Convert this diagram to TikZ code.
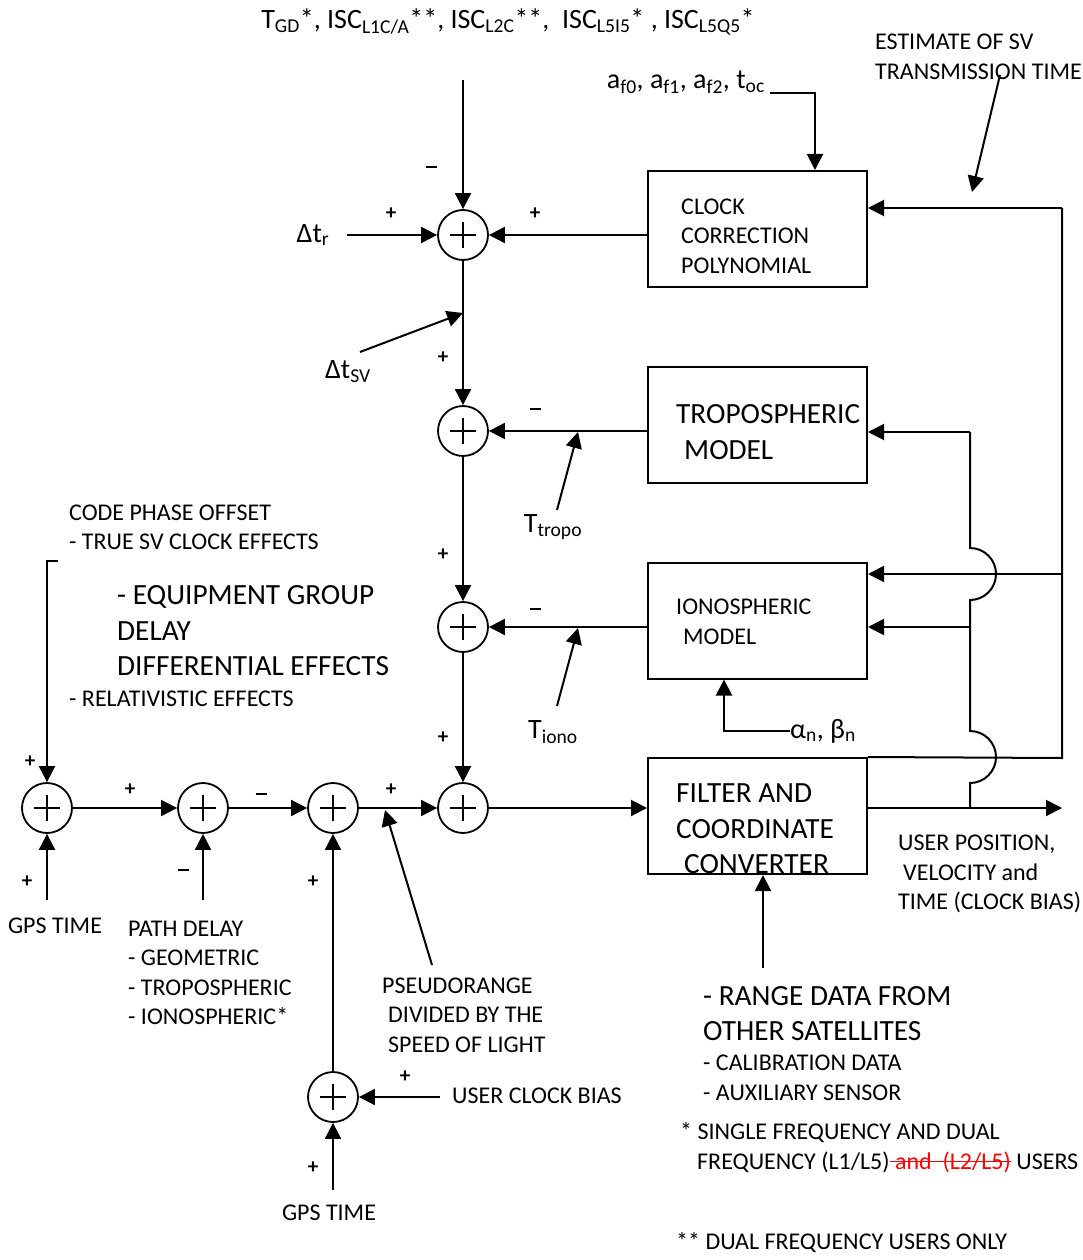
\documentclass[tikz,border=0pt]{standalone}
\usepackage{fontspec}
\setmainfont{Carlito}
\usetikzlibrary{arrows.meta}
\newcommand{\txs}{\fontsize{24}{29.5}\selectfont}
\newcommand{\txl}{\fontsize{29.3}{35.5}\selectfont}
\newcommand{\txt}{\fontsize{28}{30}\selectfont}
\newcommand{\lo}[1]{\textsubscript{#1}}
\newcommand{\strk}[1]{\begingroup\setbox0\hbox{#1}\rlap{\rule[0.3em]{\wd0}{1.3pt}}\box0\endgroup}
\newcommand{\mns}{\rule[0.3em]{11pt}{2pt}}

\begin{document}
\begin{tikzpicture}[x=1pt, y=-1pt,
	sumj/.style={circle, draw, line width=1.8pt, minimum size=50pt, inner sep=0pt,
		path picture={\draw[line width=1.4pt]
			([xshift=-13pt]path picture bounding box.center) -- ([xshift=13pt]path picture bounding box.center)
			([yshift=-13pt]path picture bounding box.center) -- ([yshift=13pt]path picture bounding box.center);}},
	blk/.style={draw, line width=2pt, minimum width=219pt, minimum height=116pt, inner sep=0pt},
	wire/.style={line width=2pt},
	arr/.style={wire, -{Triangle[length=16pt,width=16pt]}},
	sgn/.style={font=\bfseries\fontsize{21}{21}\selectfont, inner sep=0pt},
	lbs/.style={font=\txs, inner sep=0pt, align=left},
	lbl/.style={font=\txl, inner sep=0pt, align=left},
	lbt/.style={font=\txt, inner sep=0pt}]
	\useasboundingbox (0,0) rectangle (1083,1260);
	% summing junctions
	\node[sumj] (s1) at (463,235) {};
	\node[sumj] (s2) at (463,431) {};
	\node[sumj] (s3) at (463,627) {};
	\node[sumj] (s4) at (463,808) {};
	\node[sumj] (sa) at (47,808) {};
	\node[sumj] (sb) at (203,808) {};
	\node[sumj] (sc) at (333,808) {};
	\node[sumj] (sd) at (333,1097) {};
	% blocks
	\node[blk] (clk) at (757.5,229) {};
	\node[blk] (tro) at (757.5,424.5) {};
	\node[blk] (ion) at (757.5,620.5) {};
	\node[blk] (flt) at (757.5,816) {};
	\node[lbs, anchor=west] (clkt) at (681,236) {CLOCK\\CORRECTION\\POLYNOMIAL};
	\node[lbl, anchor=west] (trot) at (676,432) {TROPOSPHERIC\\\hspace{8pt}MODEL};
	\node[lbs, anchor=west] (iont) at (676,622) {IONOSPHERIC\\\hspace{7pt}MODEL};
	\node[lbl, anchor=west] (fltt) at (676,829) {FILTER AND\\COORDINATE\\\hspace{8pt}CONVERTER};
	% free ends
	\coordinate (topin) at (463,80);
	\coordinate (dtr) at (347,235);
	\coordinate (afc) at (770,93);
	\coordinate (estt) at (1000,75);
	\coordinate (esth) at (972,192);
	\coordinate (dtsv) at (360,352);
	\coordinate (dtsvh) at (463,313);
	\coordinate (ttro) at (557,510);
	\coordinate (ttroh) at (578,432);
	\coordinate (tion) at (557,706);
	\coordinate (tionh) at (578,628);
	\coordinate (abin) at (790,731);
	\coordinate (rngin) at (763,968);
	\coordinate (outp) at (1062,808);
	\coordinate (fb1) at (1062,208);
	\coordinate (fb2) at (1062,758);
	\coordinate (fb3) at (1062,574);
	\coordinate (fi0) at (970,808);
	\coordinate (fi1) at (970,432);
	\coordinate (fi2) at (970,627);
	\coordinate (cpoin) at (58,561);
	\coordinate (gps1) at (47,900);
	\coordinate (pdl) at (203,900);
	\coordinate (psr) at (432,965);
	\coordinate (psrh) at (385,810);
	\coordinate (ucb) at (440,1097);
	\coordinate (gps2) at (333,1190);
	% upper column
	\draw[arr] (topin) -- (s1);
	\draw[arr] (dtr) -- (s1);
	\draw[arr] (clk.west |- s1) -- (s1);
	\draw[arr] (afc) -| ([xshift=57.5pt]clk.north);
	\draw[arr] (estt) -- (esth);
	\draw[arr] (s1) -- (s2);
	\draw[arr] (dtsv) -- (dtsvh);
	\draw[arr] (tro.west |- s2) -- (s2);
	\draw[arr] (ttro) -- (ttroh);
	\draw[arr] (s2) -- (s3);
	\draw[arr] (ion.west |- s3) -- (s3);
	\draw[arr] (tion) -- (tionh);
	\draw[arr] (abin) -| ([xshift=-33.5pt]ion.south);
	\draw[arr] (s3) -- (s4);
	\draw[arr] (s4) -- (s4 -| flt.west);
	\draw[arr] (rngin) -- (rngin |- flt.south);
	\draw[arr] (flt.east |- s4) -- (outp);
	% feedback lines
	\draw[wire] (flt.north east) -- (fb2) -- (fb1);
	\draw[arr] (fb1) -- (clk.east |- fb1);
	\draw[arr] (fb3) -- (ion.east |- fb3);
	\draw[wire] (fi0) -- (970,783) arc[start angle=90, end angle=-90, radius=26]
		-- (970,600) arc[start angle=90, end angle=-90, radius=26] -- (fi1);
	\draw[arr] (fi1) -- (tro.east |- fi1);
	\draw[arr] (fi2) -- (ion.east |- fi2);
	% lower row
	\draw[arr] (cpoin) -| (sa);
	\draw[arr] (gps1) -- (sa);
	\draw[arr] (sa) -- (sb);
	\draw[arr] (pdl) -- (sb);
	\draw[arr] (sb) -- (sc);
	\draw[arr] (sd) -- (sc);
	\draw[arr] (sc) -- (s4);
	\draw[arr] (psr) -- (psrh);
	\draw[arr] (ucb) -- (sd);
	\draw[arr] (gps2) -- (sd);
	% signs
	\node[sgn] (m1) at (431,170) {\mns};
	\node[sgn] (p1) at (391,214) {+};
	\node[sgn] (p2) at (535,214) {+};
	\node[sgn] (p3) at (443,358) {+};
	\node[sgn] (m2) at (535,412) {\mns};
	\node[sgn] (p4) at (443,555) {+};
	\node[sgn] (m3) at (535,612) {\mns};
	\node[sgn] (p5) at (443,738) {+};
	\node[sgn] (p6) at (30,762) {+};
	\node[sgn] (p7) at (27,882) {+};
	\node[sgn] (p8) at (130,790) {+};
	\node[sgn] (m4) at (183,873) {\mns};
	\node[sgn] (m5) at (261,797) {\mns};
	\node[sgn] (p9) at (313,882) {+};
	\node[sgn] (p10) at (391,790) {+};
	\node[sgn] (p11) at (405,1077) {+};
	\node[sgn] (p12) at (313,1168) {+};
	% texts
	\node[lbt] (isc) at (508,22) {T\lo{GD}*, ISC\lo{L1C/A}**, ISC\lo{L2C}**,\ \ ISC\lo{L5I5}* , ISC\lo{L5Q5}*};
	\node[lbt, anchor=east] (afl) at (765,82) {a\lo{f0}, a\lo{f1}, a\lo{f2}, t\lo{oc}};
	\node[lbs, anchor=west] (est) at (875,57) {ESTIMATE OF SV\\TRANSMISSION TIME};
	\node[lbt] (dtrl) at (313,235) {Δt\lo{r}};
	\node[lbt] (dtsvl) at (348,372) {Δt\lo{SV}};
	\node[lbt] (ttrl) at (553,527) {T\lo{tropo}};
	\node[lbt] (tiol) at (553,732) {T\lo{iono}};
	\node[lbt, anchor=west] (abl) at (790,731) {α\lo{n}, β\lo{n}};
	\node[lbs, anchor=west] (cpo) at (69,527.5) {CODE PHASE OFFSET\\- TRUE SV CLOCK EFFECTS};
	\node[lbl, anchor=west] (eqd) at (117,631) {- EQUIPMENT GROUP\\DELAY\\DIFFERENTIAL EFFECTS};
	\node[lbs, anchor=west] (rel) at (69,699) {- RELATIVISTIC EFFECTS};
	\node[lbs] (gpsl1) at (55,926) {GPS TIME};
	\node[lbs, anchor=west] (pdt) at (128,973) {PATH DELAY\\- GEOMETRIC\\- TROPOSPHERIC\\- IONOSPHERIC*};
	\node[lbs, anchor=west] (psl) at (382,1015) {PSEUDORANGE\\\hspace{6pt}DIVIDED BY THE\\\hspace{6pt}SPEED OF LIGHT};
	\node[lbs, anchor=west] (ucbl) at (452,1096) {USER CLOCK BIAS};
	\node[lbs] (gpsl2) at (329,1213) {GPS TIME};
	\node[lbs, anchor=west] (upv) at (898,874) {USER POSITION,\\\hspace{5pt}VELOCITY and\\TIME (CLOCK BIAS)};
	\node[lbl, anchor=west] (rdo) at (703,1013.5) {- RANGE DATA FROM\\OTHER SATELLITES};
	\node[lbs, anchor=west] (cal) at (703,1078) {- CALIBRATION DATA\\- AUXILIARY SENSOR};
	\node[lbs, anchor=west] (fn1) at (680,1133) {* SINGLE FREQUENCY AND DUAL};
	\node[lbs, anchor=west] (fn2) at (697,1162) {FREQUENCY (L1/L5)\textcolor{red}{\strk{\ and\ \ (L2/L5)}} USERS};
	\node[lbs, anchor=west] (fn3) at (676,1243) {** DUAL FREQUENCY USERS ONLY};
\end{tikzpicture}
\end{document}
